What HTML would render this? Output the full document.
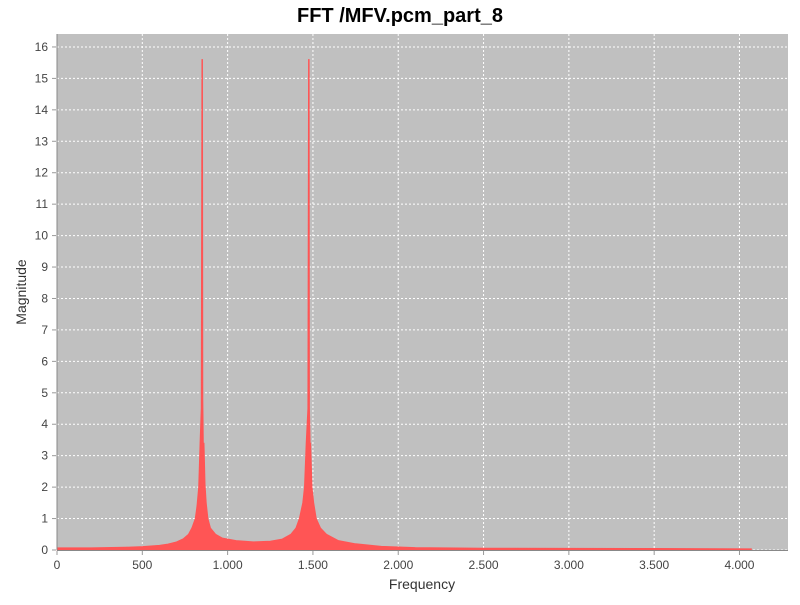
<!DOCTYPE html>
<html><head><meta charset="utf-8"><style>
body{margin:0;background:#fff;}
svg text{font-family:"Liberation Sans",sans-serif;}
</style></head><body>
<svg id="chart" width="800" height="600">
<text x="400" y="22" text-anchor="middle" font-size="20" font-weight="bold" fill="#000">FFT /MFV.pcm_part_8</text>
<rect x="57" y="34" width="731" height="516" fill="#c0c0c0"/>
<g id="grid"></g>
<g id="series"></g>
<g id="axes"></g>
<text x="422" y="589" text-anchor="middle" font-size="14" fill="#333">Frequency</text>
<text transform="translate(26,292) rotate(-90)" text-anchor="middle" font-size="14" fill="#333">Magnitude</text>
</svg>
<script>
const freqs=[0,200,400,500,600,650,700,740,770,790,810,820,830,838,845,849,851,853,855,858,862,868,875,885,900,930,970,1050,1150,1250,1320,1370,1400,1420,1440,1450,1460,1470,1474,1476,1478,1480,1484,1487,1495,1505,1520,1545,1580,1650,1750,1900,2100,2500,3500,4070];
const mags=[0.07,0.07,0.09,0.11,0.15,0.19,0.26,0.36,0.5,0.7,1.0,1.4,2.0,3.4,4.5,15.6,15.6,15.6,4.8,3.4,3.4,2.1,1.5,1.0,0.7,0.5,0.38,0.3,0.26,0.28,0.35,0.5,0.7,1.0,1.5,2.0,3.4,4.5,15.6,15.6,15.6,4.5,3.4,3.4,2.0,1.5,1.0,0.7,0.5,0.3,0.2,0.12,0.08,0.06,0.05,0.04];
const xTicks=[0,500,1000,1500,2000,2500,3000,3500,4000];
const xTickLabels=["0","500","1.000","1.500","2.000","2.500","3.000","3.500","4.000"];
const yTicks=[0,1,2,3,4,5,6,7,8,9,10,11,12,13,14,15,16];
const NS="http://www.w3.org/2000/svg";
const X=f=>57+f*0.17062;
const Y=v=>550-v*31.44;
function mk(tag,attrs,parent){const e=document.createElementNS(NS,tag);for(const k in attrs)e.setAttribute(k,attrs[k]);parent.appendChild(e);return e;}
const grid=document.getElementById('grid'),axes=document.getElementById('axes'),series=document.getElementById('series');
xTicks.forEach((t,i)=>{
 const g=mk('line',{x1:X(t),x2:X(t),y1:34,y2:550,stroke:'#fff','stroke-dasharray':'2,2','stroke-width':1},grid);
 
 
 mk('line',{x1:X(t),x2:X(t),y1:551,y2:555,stroke:'#999'},axes);
 const tx=mk('text',{x:X(t),y:569,'text-anchor':'middle','font-size':12,fill:'#444'},axes);
 tx.textContent=xTickLabels[i];
 
 
});
yTicks.forEach(t=>{
 const g=mk('line',{x1:57,x2:788,y1:Y(t),y2:Y(t),stroke:'#fff','stroke-dasharray':'2,2','stroke-width':1},grid);
 
 
 mk('line',{x1:52,x2:56,y1:Y(t),y2:Y(t),stroke:'#999'},axes);
 const tx=mk('text',{x:48,y:Y(t)+4,'text-anchor':'end','font-size':12,fill:'#444'},axes);
 tx.textContent=t;
 
 
});
let d='M'+X(freqs[0])+','+Y(0);
freqs.forEach((f,i)=>{d+=' L'+X(f).toFixed(2)+','+Y(mags[i]).toFixed(2);});
d+=' L'+X(freqs[freqs.length-1])+','+Y(0)+' Z';
const p=mk('path',{d:d,fill:'#ff5555',stroke:'#ff5555','stroke-width':0.8},series);


const ax1=mk('line',{x1:57,x2:57,y1:34,y2:550,stroke:'#888'},axes);


const ax2=mk('line',{x1:57,x2:788,y1:550.5,y2:550.5,stroke:'#888'},axes);


</script>
</body></html>
